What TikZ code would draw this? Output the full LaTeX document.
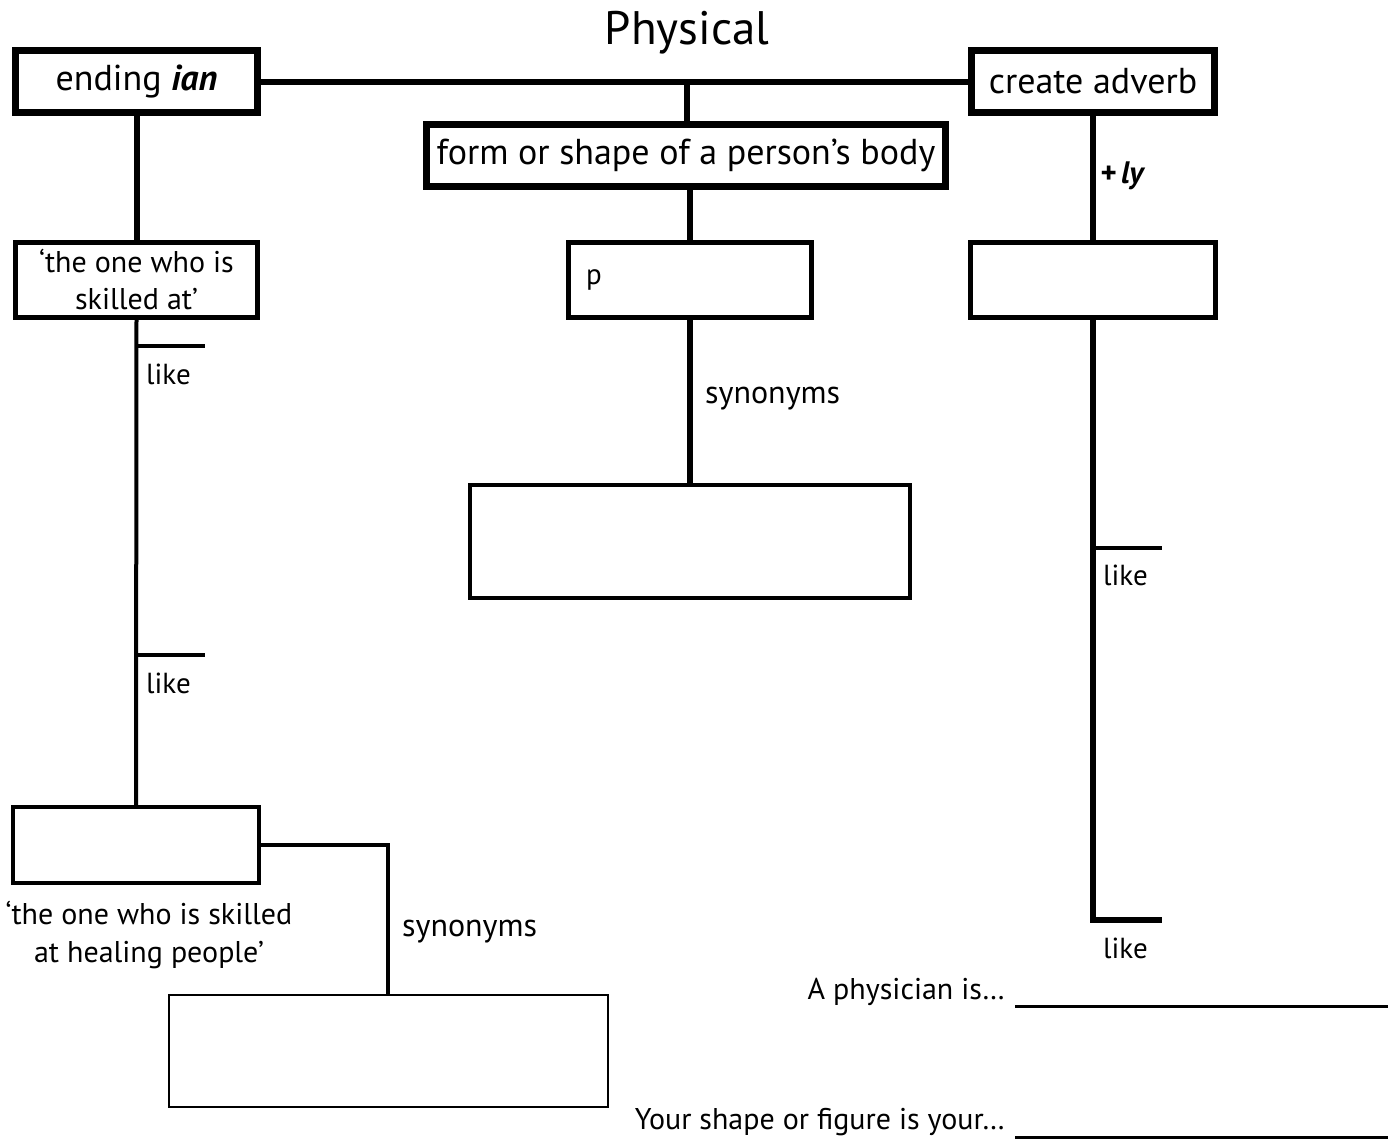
\documentclass[tikz,border=0pt]{standalone}
\usepackage{fontspec}
\setmainfont{PT Sans}
\usetikzlibrary{positioning}

\tikzset{
  bigbox/.style={draw, line width=7pt, inner sep=0pt, font=\fontsize{36}{40}\selectfont},
  midbox/.style={draw, line width=5pt, inner sep=0pt, font=\fontsize{30}{37}\selectfont, align=center},
  thinbox/.style={draw, line width=2pt, inner sep=0pt},
  link/.style={line width=6pt},
  thinlink/.style={line width=4pt},
  lbl/.style={inner sep=0pt, font=\fontsize{29}{37}\selectfont}
}

\begin{document}
\begin{tikzpicture}[x=1pt,y=-1pt]
\useasboundingbox (0,0) rectangle (1397,1140);

% title and top row
\node[inner sep=0pt, font=\fontsize{47}{50}\selectfont] (title) at (687,33) {Physical};
\node[bigbox, minimum width=242pt, minimum height=62pt] (ian) at (136.5,81.5) {ending \textbf{\textit{ian}}};
\node[bigbox, minimum width=243pt, minimum height=62pt] (adverb) at (1093,81.5) {create adverb};
\node[bigbox, minimum width=519pt, minimum height=62pt] (form) at (686,155.5) {form or shape of a person’s body};
\draw[link] (ian.east) -- (adverb.west);
\coordinate (hub) at (687,80);
\draw[link] (hub) -- (form.north -| hub);

% middle branch
\node[midbox, minimum width=243pt, minimum height=75pt] (pbox) at (690,280) {};
\node[lbl, right=20pt of pbox.west] (pmark) {p};
\node[thinbox, line width=4pt, minimum width=440pt, minimum height=113pt] (syn1) at (690,541.5) {};
\draw[link] (form.south -| pbox) -- (pbox.north);
\draw[link] (pbox.south) -- (syn1.north);
\node[lbl, anchor=west, font=\fontsize{32}{37}\selectfont] (synlbl1) at (705,399) {synonyms};

% left branch
\node[midbox, minimum width=242pt, minimum height=75pt] (skilled) at (136.5,280) {‘the one who is\\skilled at’};
\draw[link] (ian.south) -- (skilled.north);
\node[thinbox, line width=4pt, minimum width=246pt, minimum height=76pt] (physbox) at (136,845) {};
\draw[thinlink] (skilled.south) -- (physbox.north);
\coordinate (ltick1) at (136,346);
\coordinate (ltick2) at (136,655);
\draw[thinlink] (ltick1) -- ++(69,0);
\draw[thinlink] (ltick2) -- ++(69,0);
\node[lbl, anchor=west] (like1) at (146,374) {like};
\node[lbl, anchor=west] (like2) at (146,683) {like};
\node[lbl, align=center, below=16pt of physbox, xshift=13pt, font=\fontsize{30}{38}\selectfont] (healtext) {‘the one who is skilled\\at healing people’};
\node[thinbox, minimum width=439pt, minimum height=112pt] (syn2) at (388,1051) {};
\draw[thinlink] (physbox.east) -| (syn2.north);
\node[lbl, anchor=west, font=\fontsize{32}{37}\selectfont] (synlbl2) at (402,932) {synonyms};

% right branch
\node[midbox, minimum width=245pt, minimum height=75pt] (advbox) at (1093,280) {};
\draw[link] (adverb.south) -- (advbox.north);
\node[lbl, anchor=west, font=\fontsize{31}{36}\selectfont\bfseries\itshape] (plusly) at (1100,176) {+\,ly};
\coordinate (rtick1) at (1093,548);
\coordinate (rend) at (1093,920);
\draw[link] (advbox.south) -- (rend) -- ++(69,0);
\draw[thinlink] (rtick1) -- ++(69,0);
\node[lbl, anchor=west] (like3) at (1103,575) {like};
\node[lbl, anchor=west] (like4) at (1103,948) {like};

% questions
\node[lbl, anchor=east, font=\fontsize{30}{37}\selectfont] (q1) at (1005,992) {A physician is…};
\node[lbl, anchor=east, font=\fontsize{30}{37}\selectfont] (q2) at (1005,1122) {Your shape or figure is your…};
\coordinate (ans1) at (1015,1006);
\coordinate (ans2) at (1015,1137);
\draw[line width=3pt] (ans1) -- ++(373,0);
\draw[line width=3pt] (ans2) -- ++(373,0);
\end{tikzpicture}
\end{document}
